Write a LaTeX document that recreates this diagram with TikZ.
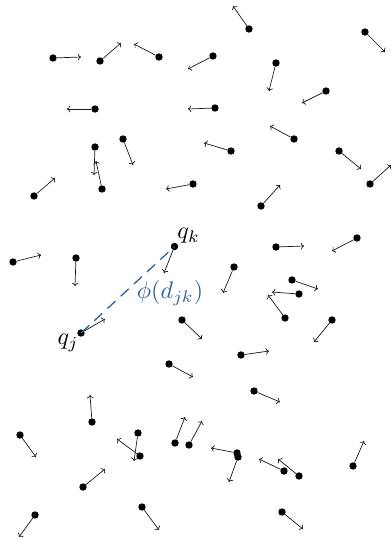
\documentclass[tikz,border=0pt]{standalone}
\usetikzlibrary{arrows.meta}
\definecolor{dblue}{RGB}{45,98,152}
\begin{document}
\begin{tikzpicture}[x=1pt,y=-1pt,
  dot/.style={circle,fill=black,inner sep=0pt,minimum size=7.4pt},
  vec/.style={->,line width=0.7pt,black!90},
  link/.style={dblue,line width=1.3pt,dash pattern=on 11pt off 7pt},
  lbl/.style={scale=2.4,inner sep=0pt}]
\useasboundingbox (0,0) rectangle (391,538);
\foreach \x/\y/\tx/\ty [count=\i] in {
  249/29/233/6, 365/32/385/52, 53/58/81/57, 100/61/121/43, 159/57/134/44,
  213/56/188/69, 276/63/269/91, 326/91/302/103, 95/109/67/109, 215/108/188/109,
  294/139/270/126, 95/147/94/175, 123/139/133/165, 231/151/204/143, 339/151/361/169,
  102/189/96/161, 193/184/166/189, 34/196/55/178, 370/184/391/165, 261/206/280/185,
  13/262/41/255, 76/258/75/286, 276/247/304/246, 357/238/332/251, 234/267/223/293,
  292/280/318/289, 299/294/272/292, 285/318/268/295, 182/320/202/339, 332/320/314/342,
  241/355/269/351, 169/364/193/377, 254/391/280/402, 92/422/90/395, 20/435/36/457,
  138/433/134/461, 140/456/117/439, 175/443/185/417, 189/445/202/421, 237/453/211/448,
  238/457/229/482, 284/471/259/459, 299/476/278/459, 353/466/364/441, 83/487/105/469,
  35/515/19/537, 142/507/159/530, 282/512/303/529}
{
  \node[dot] (p\i) at (\x,\y) {};
  \coordinate (t\i) at (\tx,\ty);
  \draw[vec] (p\i) -- (t\i);
}
% the two highlighted agents
\node[dot] (qk) at (174.5,246.5) {};
\node[dot] (qj) at (81,333) {};
\coordinate (tk) at (164,273);
\coordinate (tj) at (105,319);
\draw[link] (qj.center) -- (qk.center);
\draw[vec] (qk) -- (tk);
\draw[vec] (qj) -- (tj);
\node[lbl,anchor=west] (lk) at (177,236) {$q_k$};
\node[lbl] (lj) at (68,343) {$q_j$};
\node[lbl,text=dblue] (phi) at (170,293) {$\phi(d_{jk})$};
\end{tikzpicture}
\end{document}
